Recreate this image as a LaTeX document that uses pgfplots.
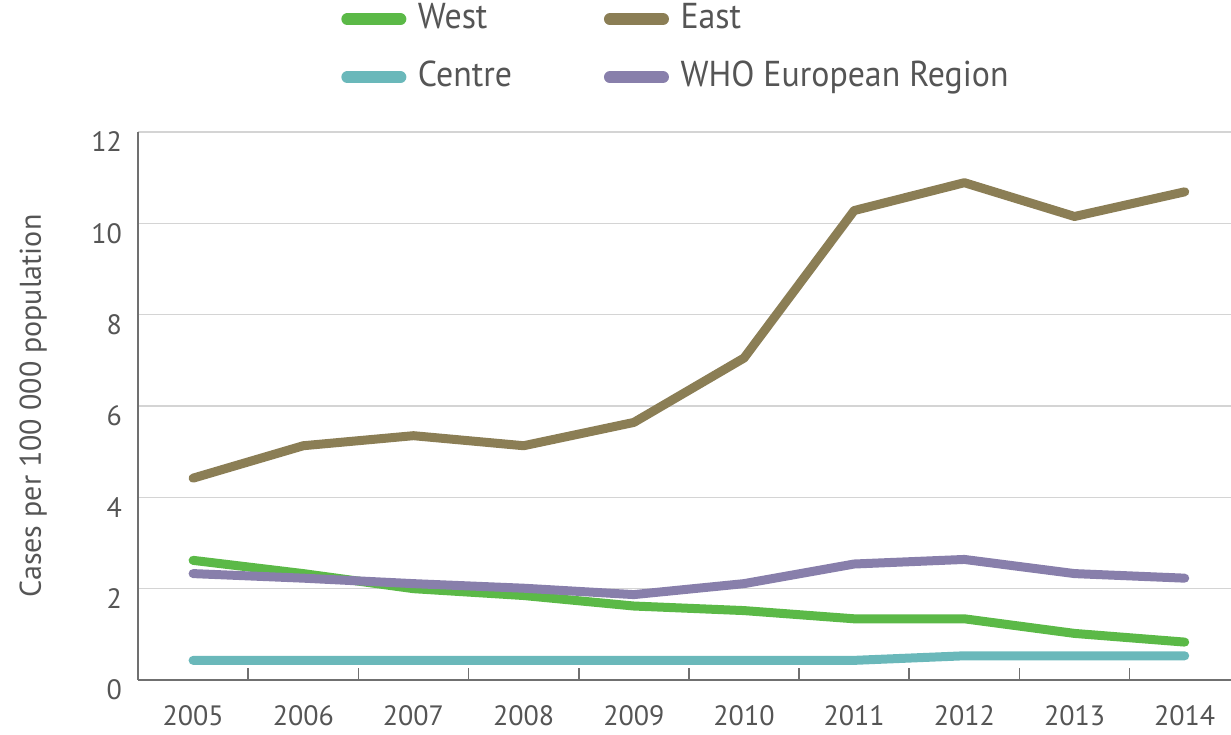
\documentclass[border=0pt]{standalone}
\usepackage{fontspec}
\setmainfont{PT Sans}
\newfontfamily\legfont{PT Sans}[FakeStretch=0.94]
\usepackage{pgfplots}
\pgfplotsset{compat=1.18}

\definecolor{westc}{HTML}{5BB947}
\definecolor{eastc}{HTML}{8B7E55}
\definecolor{centc}{HTML}{6AB8BA}
\definecolor{whoc}{HTML}{887FAB}
\definecolor{txt}{HTML}{555555}
\definecolor{gridc}{HTML}{D4D4D4}
\definecolor{axc}{HTML}{707070}

\begin{document}
\begin{tikzpicture}
\begin{axis}[
  name=ax,
  scale only axis,
  width=546.5pt, height=274pt,
  xmin=-0.5, xmax=9.42,
  ymin=0, ymax=12,
  axis x line*=bottom, axis y line*=left,
  axis line style={axc, line width=1pt},
  xtick={0,...,9},
  xticklabels={2005,2006,2007,2008,2009,2010,2011,2012,2013,2014},
  minor xtick={0.5,1.5,...,8.5},
  major x tick style={draw=none},
  minor x tick style={axc, line width=0.8pt},
  minor tick length=6pt,
  tick align=inside,
  ytick={0,2,...,12},
  y tick style={draw=none},
  ymajorgrids,
  grid style={gridc, line width=0.8pt},
  /pgf/number format/assume math mode=true,
  tick label style={text=txt, font=\fontsize{14}{16}\selectfont},
  xticklabel style={yshift=-9pt},
  yticklabel style={xshift=-4.5pt, yshift=-5pt},
  ylabel={Cases per 100 000 population},
  ylabel style={at={(axis description cs:-0.096,0.5)}, anchor=center,
    text=txt, font=\fontsize{15}{17}\selectfont},
  legend columns=2,
  legend cell align=left,
  legend image code/.code={\draw[line width=6pt, line cap=round] (3pt,0pt) -- (29.5pt,0pt);},
  legend style={draw=none, fill=none, at={(rel axis cs:0.1802,1.245)}, anchor=north west,
    font=\legfont\fontsize{18}{21}\selectfont, text=txt,
    nodes={inner sep=0pt, text height=13pt, text depth=4pt},
    row sep=12pt,
    /tikz/every even column/.append style={column sep=46pt},
    /tikz/every odd column/.append style={column sep=5.8pt}},
  every axis plot/.append style={line width=4.5pt, line join=round, line cap=round},
]
\addplot[westc] coordinates {(0,2.62)(1,2.33)(2,2.00)(3,1.85)(4,1.62)(5,1.52)(6,1.34)(7,1.34)(8,1.02)(9,0.83)};
\addlegendentry{West}
\addplot[eastc] coordinates {(0,4.42)(1,5.13)(2,5.35)(3,5.13)(4,5.64)(5,7.05)(6,10.28)(7,10.89)(8,10.15)(9,10.69)};
\addlegendentry{East}
\addplot[centc] coordinates {(0,0.43)(1,0.43)(2,0.43)(3,0.43)(4,0.43)(5,0.43)(6,0.43)(7,0.53)(8,0.53)(9,0.53)};
\addlegendentry{Centre}
\addplot[whoc] coordinates {(0,2.33)(1,2.23)(2,2.11)(3,2.01)(4,1.87)(5,2.11)(6,2.54)(7,2.64)(8,2.33)(9,2.23)};
\addlegendentry{WHO European Region}
\end{axis}
\pgfresetboundingbox
\path ([xshift=-69pt,yshift=-27pt]ax.south west) rectangle ([yshift=66pt]ax.north east);
\end{tikzpicture}
\end{document}
